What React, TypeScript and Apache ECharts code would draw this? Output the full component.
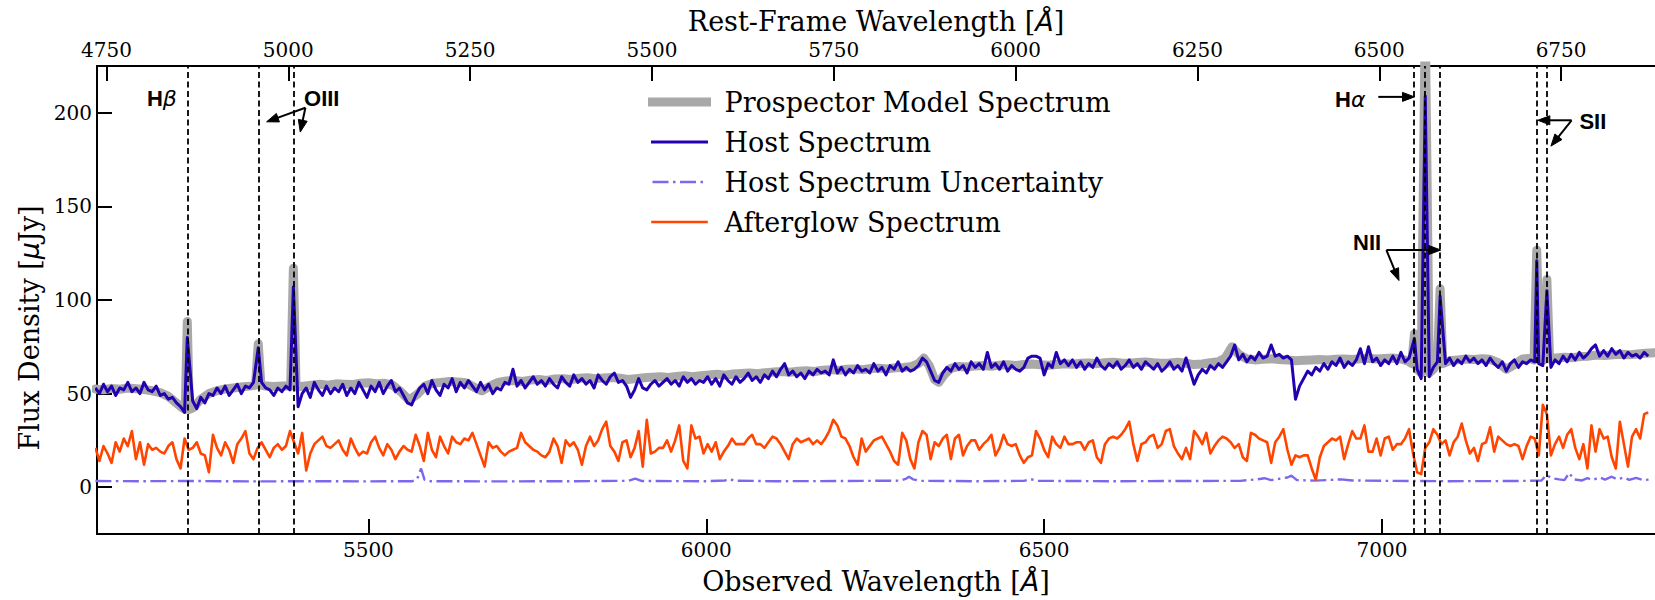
import React, { useEffect, useRef } from 'react';
import * as echarts from 'echarts';

// ---------- axes ----------
const REDSHIFT = 0.0763;
const OBS_MIN = 5098.4;
const OBS_MAX = 7404;
const FLUX_MIN = -25;
const FLUX_MAX = 225;
const OBS_TICKS = [5500, 6000, 6500, 7000];
const REST_TICKS = [4750, 5000, 5250, 5500, 5750, 6000, 6250, 6500, 6750];
const FLUX_TICKS = [0, 50, 100, 150, 200];

// ---------- spectra on a regular observed-wavelength grid ----------
const GRID_START = 5096;
const GRID_STEP = 6;

const HOST_FLUX = [
  53, 50, 55, 51, 54, 49, 53, 52, 56, 51, // 5096
  53, 50, 56, 52, 51, 54, 49, 50, 47, 48, // 5156
  45, 43, 40, 39, 46, 42, 48, 45, 50, 49, // 5216
  53, 50, 54, 49, 52, 55, 50, 54, 53, 56, // 5276
  55, 56, 53, 52, 49, 53, 51, 54, 52, 51, // 5336
  43, 50, 53, 48, 56, 52, 49, 54, 50, 53, // 5396
  51, 55, 49, 53, 50, 56, 52, 48, 54, 51, // 5456
  56, 50, 54, 57, 51, 53, 49, 45, 44, 49, // 5516
  53, 55, 50, 57, 52, 49, 55, 53, 58, 51, // 5576
  56, 53, 57, 54, 51, 56, 52, 55, 50, 53, // 5636
  52, 56, 55, 63, 54, 57, 53, 56, 59, 55, // 5696
  57, 54, 58, 55, 53, 59, 56, 54, 60, 56, // 5756
  58, 55, 57, 53, 60, 57, 55, 59, 61, 56, // 5816
  57, 54, 48, 52, 58, 53, 52, 55, 57, 54, // 5876
  56, 58, 55, 57, 54, 59, 56, 58, 55, 57, // 5936
  56, 59, 55, 58, 54, 60, 57, 55, 59, 56, // 5996
  58, 61, 57, 59, 56, 60, 58, 62, 59, 63, // 6056
  66, 60, 62, 59, 61, 58, 62, 60, 63, 61, // 6116
  62, 60, 68, 61, 64, 60, 63, 61, 65, 62, // 6176
  63, 61, 66, 62, 64, 60, 65, 63, 67, 62, // 6236
  64, 62, 63, 65, 69, 67, 62, 57, 56, 61, // 6296
  64, 62, 66, 63, 65, 61, 67, 64, 66, 63, // 6356
  72, 64, 66, 63, 67, 62, 65, 63, 62, 64, // 6416
  69, 70, 70, 69, 60, 66, 64, 72, 66, 68, // 6476
  65, 68, 64, 67, 63, 66, 64, 69, 65, 63, // 6536
  66, 64, 67, 63, 65, 68, 64, 66, 63, 67, // 6596
  65, 63, 66, 62, 64, 67, 63, 65, 62, 69, // 6656
  62, 55, 60, 63, 61, 65, 63, 66, 64, 67, // 6716
  70, 76, 68, 71, 67, 70, 68, 72, 69, 70, // 6776
  76, 70, 71, 69, 70, 68, 47, 54, 58, 62, // 6836
  60, 64, 62, 66, 63, 67, 65, 69, 64, 67, // 6896
  65, 68, 74, 66, 75, 67, 69, 65, 68, 66, // 6956
  70, 66, 72, 67, 69, 72, 63, 58, 60, 59, // 7016
  64, 67, 66, 66, 69, 65, 68, 66, 70, 67, // 7076
  69, 66, 68, 65, 69, 66, 64, 67, 62, 66, // 7136
  68, 64, 67, 66, 68, 67, 66, 65, 66, 64, // 7196
  68, 66, 70, 67, 71, 68, 72, 69, 71, 74, // 7256
  76, 70, 73, 70, 74, 71, 73, 69, 72, 70, // 7316
  71, 69, 72, 70, // 7376
];

// emission-line peaks of the host spectrum [observed wavelength, flux]
const HOST_LINES = [
  [5232, 80], [5337, 74.5], [5389, 107], [7048, 79.5],
  [7064, 209], [7086, 102], [7229, 121], [7244, 105],
];

const AFTERGLOW_FLUX = [
  21, 14, 22, 18, 13, 24, 19, 26, 22, 30,
  15, 24, 12, 23, 20, 21, 19, 18, 22, 24,
  15, 10, 26, 20, 21, 24, 18, 17, 8, 28,
  21, 17, 24, 20, 13, 23, 26, 30, 18, 15,
  21, 24, 20, 16, 21, 23, 20, 22, 30, 24,
  18, 29, 9, 18, 23, 25, 27, 22, 21, 23,
  25, 20, 17, 26, 21, 17, 19, 18, 24, 27,
  21, 17, 23, 20, 15, 19, 22, 20, 19, 28,
  22, 14, 29, 20, 16, 27, 22, 18, 27, 24,
  23, 26, 25, 29, 23, 17, 11, 24, 21, 22,
  19, 17, 19, 20, 21, 29, 24, 22, 20, 19,
  17, 16, 19, 26, 22, 13, 25, 22, 24, 20,
  12, 22, 27, 22, 25, 31, 35, 22, 19, 14,
  24, 25, 16, 21, 30, 11, 36, 18, 19, 21,
  21, 25, 19, 25, 33, 14, 10, 33, 26, 27,
  18, 23, 19, 24, 15, 19, 22, 26, 23, 23,
  23, 26, 28, 23, 23, 21, 24, 27, 26, 23,
  19, 15, 23, 26, 24, 25, 26, 23, 25, 23,
  26, 30, 36, 33, 27, 26, 22, 16, 12, 26,
  19, 22, 25, 26, 27, 23, 19, 14, 12, 29,
  25, 15, 10, 24, 30, 28, 15, 24, 22, 26,
  28, 15, 26, 28, 17, 22, 25, 25, 20, 23,
  25, 28, 17, 21, 28, 23, 22, 23, 17, 13,
  16, 17, 30, 26, 20, 16, 27, 23, 21, 27,
  23, 23, 24, 24, 20, 24, 25, 16, 13, 23,
  26, 27, 26, 28, 31, 35, 23, 14, 23, 24,
  27, 28, 21, 23, 30, 31, 22, 18, 15, 21,
  15, 30, 27, 23, 29, 18, 22, 25, 27, 26,
  24, 21, 23, 16, 14, 29, 28, 26, 25, 24,
  13, 24, 27, 31, 20, 12, 17, 16, 17, 17,
  10, 4, 16, 22, 24, 26, 25, 27, 15, 23,
  30, 26, 26, 33, 19, 19, 26, 17, 26, 27,
  20, 23, 23, 26, 31, 18, 8, 7, 21, 24,
  31, 28, 23, 25, 17, 24, 27, 34, 25, 18,
  21, 14, 23, 24, 32, 19, 27, 25, 23, 22,
  23, 22, 15, 22, 27, 26, 17, 44, 39, 17,
  23, 27, 21, 28, 31, 21, 15, 23, 10, 33,
  19, 31, 26, 27, 16, 10, 35, 23, 11, 27,
  31, 26, 39, 40,
];

// Prospector model [observed wavelength, flux]
const MODEL_SPECTRUM = [
  [5096, 52.5], [5108, 52], [5120, 52.8], [5132, 52.3], [5144, 53], [5156, 52.6], [5168, 52.2],
  [5180, 51.5], [5192, 50.5], [5204, 48.5], [5214, 45.5], [5224, 42.5], [5229, 41.5], [5232, 88.5],
  [5235, 41.5], [5241, 42.5], [5252, 47], [5264, 50], [5276, 51.5], [5288, 52.5], [5300, 53],
  [5312, 53.5], [5324, 54], [5333, 54.5], [5337, 76.6], [5341, 54.5], [5348, 54], [5360, 53.8],
  [5372, 54], [5385, 54], [5389, 117], [5393, 53.5], [5404, 54], [5416, 54.5], [5428, 55],
  [5440, 54.5], [5452, 55.2], [5464, 55], [5476, 54.8], [5488, 55.5], [5500, 55.8], [5512, 55.3],
  [5524, 55.5], [5536, 54.5], [5548, 51], [5560, 46.5], [5572, 49.5], [5584, 54], [5596, 55.5],
  [5608, 56], [5620, 56.5], [5632, 56.2], [5644, 55.8], [5656, 53.5], [5668, 51.5], [5680, 54],
  [5692, 56], [5704, 56.8], [5716, 57], [5728, 56.5], [5740, 57.2], [5752, 57.5], [5764, 57],
  [5776, 57.8], [5788, 58], [5800, 57.5], [5812, 58.2], [5824, 58.5], [5836, 58], [5848, 58.3],
  [5860, 58.6], [5872, 58.2], [5884, 57.5], [5896, 58], [5908, 58.5], [5920, 58.8], [5932, 59],
  [5944, 58.6], [5956, 59.2], [5968, 59.5], [5980, 59], [5992, 59.6], [6004, 60], [6016, 60.3],
  [6028, 59.8], [6040, 60.5], [6052, 60.8], [6064, 61], [6076, 60.6], [6088, 61.2], [6100, 61.5],
  [6112, 61.8], [6124, 61.4], [6136, 62], [6148, 62.2], [6160, 61.8], [6172, 62.5], [6184, 62.8],
  [6196, 62.4], [6208, 63], [6220, 63.2], [6232, 62.8], [6244, 63.4], [6256, 63.6], [6268, 63.2],
  [6280, 63.8], [6292, 64], [6304, 64.5], [6314, 66], [6322, 69], [6330, 65], [6338, 57.5],
  [6344, 56], [6352, 60], [6362, 63.5], [6374, 64.5], [6386, 64.2], [6398, 64.8], [6410, 65],
  [6422, 64.6], [6434, 65.2], [6446, 65.4], [6458, 65], [6470, 65.5], [6482, 65.8], [6494, 65.4],
  [6506, 65.2], [6518, 65.6], [6530, 66], [6542, 65.7], [6554, 66.2], [6566, 66.4], [6578, 66],
  [6590, 66.5], [6602, 66.8], [6614, 66.4], [6626, 66.2], [6638, 66.6], [6650, 66.9], [6662, 66.5],
  [6674, 66.2], [6686, 66.4], [6698, 66.7], [6710, 66.2], [6722, 65.5], [6734, 65.8], [6746, 66.5],
  [6758, 67], [6768, 69], [6778, 75], [6788, 71], [6800, 68.5], [6812, 68], [6824, 68.3],
  [6836, 68.6], [6848, 68.2], [6860, 68], [6872, 67.5], [6884, 67.8], [6896, 68], [6908, 68.2],
  [6920, 67.9], [6932, 68.3], [6944, 68.5], [6956, 68.2], [6968, 68.6], [6980, 68.9], [6992, 68.5],
  [7004, 68.8], [7016, 69], [7028, 68.5], [7038, 67.5], [7044, 66], [7048, 82], [7052, 63],
  [7058, 61], [7064, 250], [7070, 61], [7076, 63], [7082, 66], [7086, 106], [7090, 66],
  [7100, 67.5], [7112, 68], [7124, 68.5], [7136, 68.2], [7148, 68.6], [7160, 68.3], [7172, 66.5],
  [7184, 63], [7196, 65.5], [7208, 68.5], [7218, 68.8], [7225, 68], [7229, 126.6], [7233, 68],
  [7236.5, 67.5], [7240, 68], [7244, 111], [7248, 68.5], [7258, 69], [7270, 69.4], [7282, 69.2],
  [7294, 69.8], [7306, 70], [7318, 70.6], [7330, 70.3], [7342, 70.8], [7354, 71], [7366, 70.7],
  [7378, 71.2], [7390, 71.5], [7404, 71.8],
];

// host uncertainty [observed wavelength, flux]
const HOST_UNCERTAINTY = [
  [5096, 3.3], [5160, 3.2], [5240, 3.3], [5330, 3.1], [5420, 3.2], [5500, 3.1], [5565, 3.2],
  [5572, 4.2], [5578, 10], [5583, 4], [5592, 3.2], [5700, 3.1], [5800, 3.2], [5885, 3.4],
  [5895, 4.6], [5905, 3.3], [6000, 3.2], [6028, 3.6], [6034, 4.3], [6042, 3.5], [6100, 3.2],
  [6200, 3.3], [6288, 3.5], [6296, 4.6], [6300, 5.6], [6306, 4.2], [6316, 3.4], [6400, 3.2],
  [6470, 3.4], [6480, 4.3], [6490, 3.4], [6600, 3.2], [6700, 3.3], [6790, 3.4], [6815, 4.2],
  [6826, 4.8], [6836, 3.8], [6860, 5.2], [6866, 6.2], [6874, 3.8], [6900, 3.5], [6940, 4.2],
  [6956, 3.6], [7000, 3.4], [7100, 3.2], [7200, 3.3], [7236, 3.6], [7243, 6.5], [7252, 4.8],
  [7262, 4.2], [7270, 3.8], [7277, 7.6], [7284, 4.2], [7296, 3.6], [7304, 4.8], [7312, 3.9],
  [7322, 5.2], [7330, 4.1], [7340, 5.6], [7348, 4.2], [7358, 5.2], [7366, 3.9], [7376, 5],
  [7386, 3.8], [7400, 4.2],
];

// rest-frame wavelengths of the marked lines
const REST_LINES = [4861.3, 4958.9, 5006.8, 6548.1, 6562.8, 6583.5, 6716.4, 6730.8];

// annotations (observed wavelength, flux)
const ANNOT_LABELS = ['H{g|β}', 'OIII', 'H{g|α}', 'NII', 'SII'];
const ANNOT_X = [5194.5, 5431, 6953, 6978, 7312];
const ANNOT_Y = [207.6, 207.6, 207.1, 130.9, 195.5];
const ARROWS = [
  [5406.8, 202.7, 5349.4, 195.2],
  [5406.8, 202.7, 5399.2, 189.7],
  [6994.5, 208.5, 7048.1, 208.5],
  [7006.5, 126.7, 7087, 126.7],
  [7006.5, 126.7, 7025.1, 110.4],
  [7280.6, 196, 7230.6, 196],
  [7280.6, 196, 7250, 182.2],
];

const SERIES_NAMES = ['Prospector Model Spectrum', 'Host Spectrum', 'Host Spectrum Uncertainty', 'Afterglow Spectrum'];

const SERIF = 'DejaVu Serif';
const COL_MODEL = '#a9a9a9';
const COL_HOST = '#2300b0';
const COL_UNC = '#7b68ee';
const COL_AG = '#ff4500';
const UNC_DASH = [16, 4.5, 2.5, 4.5];
const HIDDEN_SYMBOL = { color: 'rgba(0,0,0,0)', borderColor: 'rgba(0,0,0,0)', borderWidth: 0, opacity: 0 };

function gridSeries(values: number[]) {
  return values.map((v, i) => [GRID_START + GRID_STEP * i, v]);
}

function hostData() {
  const grid = gridSeries(HOST_FLUX).filter(
    (p) => !HOST_LINES.some((l) => Math.abs(l[0] - p[0]) < 2.5)
  );
  return grid.concat(HOST_LINES.map((l) => [l[0], l[1]])).sort((a, b) => a[0] - b[0]);
}

function axisCommon() {
  return {
    axisLine: { show: true, onZero: false, lineStyle: { color: '#000', width: 2 } },
    splitLine: { show: false },
  };
}

function tickStyle(values: number[]) {
  return { show: true, inside: true, length: 15, lineStyle: { color: '#000', width: 2 }, customValues: values };
}

function labelStyle(values: number[], margin: number) {
  return {
    customValues: values,
    fontFamily: SERIF,
    fontSize: 20,
    color: '#000',
    margin,
    formatter: (v: number) => String(v),
  };
}

function buildOption(): any {
  const z1 = 1 + REDSHIFT;
  return {
    animation: false,
    backgroundColor: '#fff',
    textStyle: { fontFamily: SERIF },
    grid: { left: 97, right: -11, top: 66, bottom: 64, containLabel: false },
    legend: {
      orient: 'vertical',
      left: 648,
      top: 87,
      padding: 0,
      itemGap: 10,
      itemWidth: 54,
      itemHeight: 14,
      selectedMode: false,
      textStyle: { fontFamily: SERIF, fontSize: 27, color: '#000', lineHeight: 30, padding: [0, 0, 0, 13] },
      data: [
        { name: SERIES_NAMES[0], itemStyle: HIDDEN_SYMBOL, lineStyle: { width: 9, color: COL_MODEL, cap: 'square' } },
        { name: SERIES_NAMES[1], itemStyle: HIDDEN_SYMBOL, lineStyle: { width: 3, color: COL_HOST, cap: 'square' } },
        { name: SERIES_NAMES[2], itemStyle: HIDDEN_SYMBOL, lineStyle: { width: 2.4, color: COL_UNC, type: UNC_DASH } },
        { name: SERIES_NAMES[3], itemStyle: HIDDEN_SYMBOL, lineStyle: { width: 2.6, color: COL_AG, cap: 'square' } },
      ],
    },
    xAxis: [
      {
        type: 'value',
        position: 'bottom',
        min: OBS_MIN,
        max: OBS_MAX,
        ...axisCommon(),
        axisTick: tickStyle(OBS_TICKS),
        axisLabel: labelStyle(OBS_TICKS, 6),
        name: 'Observed Wavelength [{a|Å}]',
        nameLocation: 'middle',
        nameGap: 34,
        nameTextStyle: {
          fontFamily: SERIF, fontSize: 27, color: '#000',
          rich: { a: { fontFamily: 'DejaVu Sans', fontStyle: 'italic', fontSize: 27, color: '#000' } },
        },
      },
      {
        type: 'value',
        position: 'top',
        min: OBS_MIN / z1,
        max: OBS_MAX / z1,
        ...axisCommon(),
        axisTick: tickStyle(REST_TICKS),
        axisLabel: labelStyle(REST_TICKS, 6),
        name: 'Rest-Frame Wavelength [{a|Å}]',
        nameLocation: 'middle',
        nameGap: 26,
        nameTextStyle: {
          fontFamily: SERIF, fontSize: 27, color: '#000',
          rich: { a: { fontFamily: 'DejaVu Sans', fontStyle: 'italic', fontSize: 27, color: '#000' } },
        },
      },
    ],
    yAxis: {
      type: 'value',
      min: FLUX_MIN,
      max: FLUX_MAX,
      ...axisCommon(),
      axisTick: tickStyle(FLUX_TICKS),
      axisLabel: labelStyle(FLUX_TICKS, 5),
      name: 'Flux Density [{m|μ}Jy]',
      nameLocation: 'middle',
      nameGap: 52,
      nameTextStyle: {
        fontFamily: SERIF, fontSize: 27, color: '#000',
        padding: [0, 56, 0, 0],
        rich: { m: { fontFamily: 'DejaVu Sans', fontStyle: 'italic', fontSize: 27, color: '#000' } },
      },
    },
    series: [
      {
        name: SERIES_NAMES[0],
        type: 'line',
        xAxisIndex: 0,
        data: MODEL_SPECTRUM,
        symbol: 'none',
        showSymbol: false,
        z: 1,
        emphasis: { disabled: true },
        lineStyle: { color: COL_MODEL, width: 9, join: 'round', cap: 'round' },
        itemStyle: { color: COL_MODEL },
      },
      {
        name: SERIES_NAMES[1],
        type: 'line',
        xAxisIndex: 0,
        data: hostData(),
        symbol: 'none',
        showSymbol: false,
        z: 3,
        emphasis: { disabled: true },
        lineStyle: { color: COL_HOST, width: 3, join: 'round' },
        itemStyle: { color: COL_HOST },
        markLine: {
          silent: true,
          symbol: ['none', 'none'],
          label: { show: false },
          animation: false,
          lineStyle: { color: '#000', width: 1.8, type: [6, 3.5] },
          emphasis: { disabled: true },
          data: REST_LINES.map((r) => ({ xAxis: r * z1 })),
        },
      },
      {
        name: SERIES_NAMES[2],
        type: 'line',
        xAxisIndex: 0,
        data: HOST_UNCERTAINTY,
        symbol: 'none',
        showSymbol: false,
        z: 2,
        emphasis: { disabled: true },
        lineStyle: { color: COL_UNC, width: 2.4, type: UNC_DASH },
        itemStyle: { color: COL_UNC },
      },
      {
        name: SERIES_NAMES[3],
        type: 'line',
        xAxisIndex: 0,
        data: gridSeries(AFTERGLOW_FLUX),
        symbol: 'none',
        showSymbol: false,
        z: 2,
        emphasis: { disabled: true },
        lineStyle: { color: COL_AG, width: 2.6, join: 'round' },
        itemStyle: { color: COL_AG },
      },
    ],
  };
}

function buildAnnotations(chart: any) {
  const toPx = (x: number, y: number) =>
    chart.convertToPixel({ xAxisIndex: 0, yAxisIndex: 0 }, [x, y]) as number[];
  const els: any[] = [];
  ANNOT_LABELS.forEach((t, i) => {
    const p = toPx(ANNOT_X[i], ANNOT_Y[i]);
    els.push({
      type: 'text',
      x: p[0],
      y: p[1],
      z: 10,
      style: {
        text: t,
        align: 'center',
        verticalAlign: 'middle',
        fontFamily: 'Liberation Sans',
        fontWeight: 'bold',
        fontSize: 22,
        fill: '#000',
        rich: {
          g: { fontFamily: 'DejaVu Sans', fontStyle: 'italic', fontWeight: 'normal', fontSize: 22, fill: '#000' },
        },
      },
    });
  });
  const HEAD_LEN = 12;
  const HEAD_HALF = 4.5;
  ARROWS.forEach((a) => {
    const s = toPx(a[0], a[1]);
    const e = toPx(a[2], a[3]);
    const dx = e[0] - s[0];
    const dy = e[1] - s[1];
    const len = Math.sqrt(dx * dx + dy * dy) || 1;
    const ux = dx / len;
    const uy = dy / len;
    const bx = e[0] - ux * HEAD_LEN;
    const by = e[1] - uy * HEAD_LEN;
    els.push({
      type: 'line',
      z: 10,
      shape: { x1: s[0], y1: s[1], x2: bx + ux * 2, y2: by + uy * 2 },
      style: { stroke: '#000', lineWidth: 2 },
    });
    els.push({
      type: 'polygon',
      z: 10,
      shape: {
        points: [
          [e[0], e[1]],
          [bx - uy * HEAD_HALF, by + ux * HEAD_HALF],
          [bx + uy * HEAD_HALF, by - ux * HEAD_HALF],
        ],
      },
      style: { fill: '#000', stroke: '#000', lineWidth: 1 },
    });
  });
  return els;
}

export default function App() {
  const ref = useRef<HTMLDivElement>(null);
  useEffect(() => {
    if (!ref.current) return;
    const chart = echarts.init(ref.current, null, { renderer: 'svg' });
    chart.setOption(buildOption());
    chart.setOption({ graphic: buildAnnotations(chart) });
    return () => {
      chart.dispose();
    };
  }, []);
  return (
    <div
      ref={ref}
      style={{ position: 'fixed', left: 0, top: 0, width: 1655, height: 600, background: '#fff' }}
    />
  );
}
